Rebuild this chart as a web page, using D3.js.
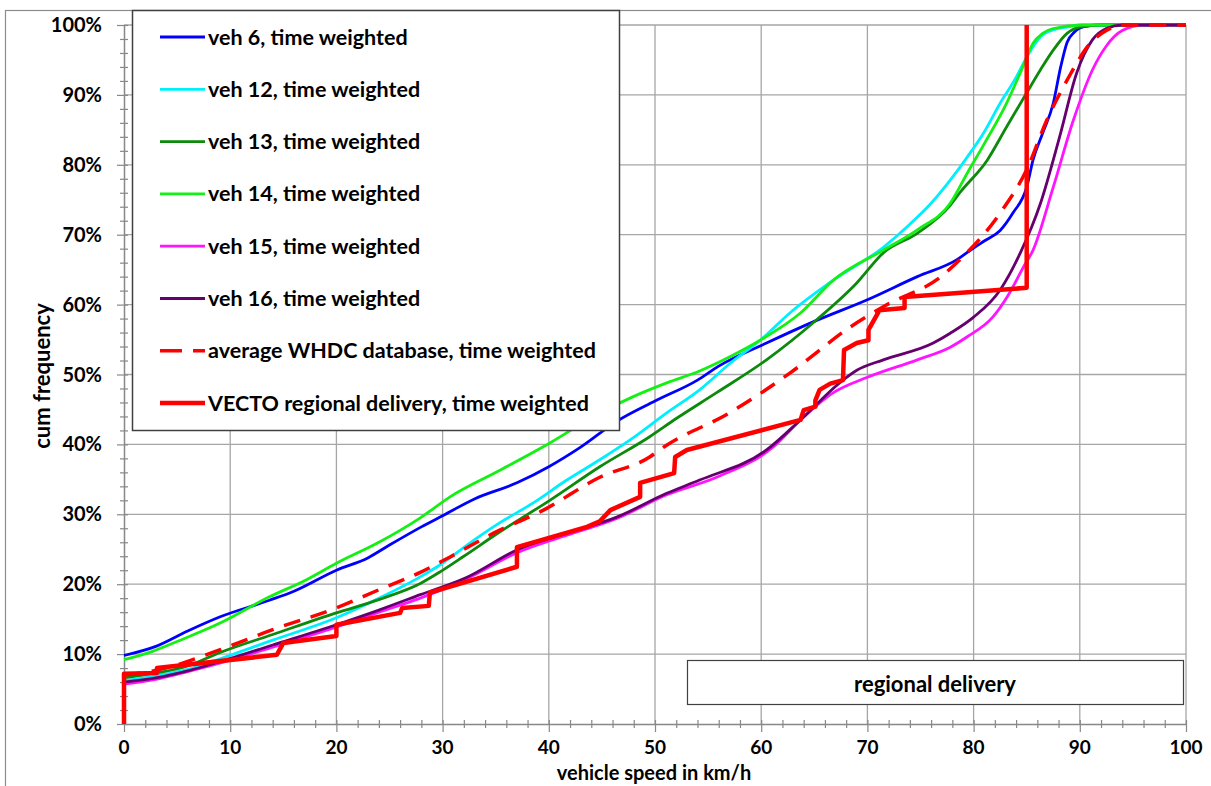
<!DOCTYPE html>
<html>
<head>
<meta charset="utf-8">
<script src="https://cdn.jsdelivr.net/npm/d3@7"></script>
<style>
  body { margin: 0; background: #fff; }
  svg text { font-family: Lato, "Open Sans", sans-serif; font-weight: bold; fill: #000; }
</style>
</head>
<body>
<script>
const width = 1211;
const height = 786;
const margin = { left: 124, right: 25, top: 25, bottom: 62 };

// speed axis ticks / cum frequency ticks
const xTicks = [0, 10, 20, 30, 40, 50, 60, 70, 80, 90, 100];
const yTicks = [0, 10, 20, 30, 40, 50, 60, 70, 80, 90, 100];

// veh 6
const veh6X = [0, 3, 6, 9, 13.7, 16, 20, 23, 25, 28, 30, 33, 37, 40, 43, 46.4, 50, 54, 56, 60.5, 65, 70, 74.7, 78.4, 80, 81, 82.5, 83.7, 85, 85.6, 86.5, 87.5, 88.2, 88.8, 89.5, 90.5, 92, 100];
const veh6Y = [9.8, 11.1, 13.3, 15.3, 17.7, 19, 22, 23.8, 25.6, 28.2, 29.8, 32.2, 34.5, 36.8, 39.6, 43.3, 46.2, 49.2, 51.2, 54.5, 57.6, 60.7, 64, 66.4, 68.1, 69.1, 70.6, 73.1, 76.8, 80.7, 84.5, 88.8, 94, 97.5, 99, 99.8, 100, 100];
// veh 12
const veh12X = [0, 3, 6, 9, 14, 20, 24, 27.6, 30, 32.3, 35.4, 38.5, 41.7, 44.8, 48, 51.1, 54.2, 57, 59.9, 62.7, 66.8, 71.5, 74, 76, 77.8, 79.4, 81, 82.5, 84, 85, 86.3, 87.5, 88.8, 90, 100];
const veh12Y = [6.2, 6.9, 7.8, 9.3, 12, 15.2, 18, 20.8, 23, 25.6, 28.8, 31.6, 34.9, 37.8, 41, 44.5, 47.8, 51.5, 54.9, 58.8, 63.5, 68.2, 71.5, 74.5, 77.8, 81.1, 84.7, 88.8, 92.5, 95.4, 98.3, 99.3, 99.7, 100, 100];
// veh 13
const veh13X = [0, 3, 6, 9, 14, 20, 24, 27.9, 29.8, 32, 35.4, 40.1, 44.8, 49.5, 52, 55.8, 60.5, 65.2, 69, 71.5, 74.7, 77.8, 78.7, 81.3, 83.1, 85, 86.3, 87.5, 88.8, 90, 92, 100];
const veh13Y = [6.6, 7.3, 8.3, 10.2, 12.8, 15.9, 17.8, 20.1, 21.8, 24, 27.5, 32, 36.8, 41.1, 43.7, 47.4, 52.1, 57.8, 63.1, 67.4, 70.2, 74.2, 76, 80.7, 85.4, 90.3, 93.6, 96.4, 98.8, 99.7, 100, 100];
// veh 14
const veh14X = [0, 2.7, 5, 9, 13.7, 17, 20, 24, 27.9, 30.7, 35.4, 40.1, 44.8, 47.9, 51.1, 54.2, 57, 59.9, 63.7, 66.8, 71.5, 74.7, 77.8, 79.4, 81, 83.1, 84.5, 85.6, 86.5, 87.5, 90.3, 100];
const veh14Y = [9.2, 10.4, 11.8, 14.4, 18.2, 20.5, 23, 26, 29.5, 32.5, 36.3, 40.2, 44.5, 46.8, 48.8, 50.5, 52.5, 54.9, 58.8, 63.5, 67.8, 70.7, 74.5, 78.8, 83, 88.8, 93.5, 97.4, 98.8, 99.5, 100, 100];
// veh 15
const veh15X = [0, 3, 6, 9, 14, 20, 24, 27.9, 32.3, 37, 41.7, 46.4, 51.1, 55.8, 61.1, 63.7, 66.8, 70, 74.7, 77.8, 79.4, 81.8, 83.4, 84.7, 85.6, 87.5, 89.4, 91.2, 92.5, 94, 96, 100];
const veh15Y = [5.7, 6.4, 7.5, 8.7, 11, 13.9, 16, 18, 20.8, 24.5, 27, 29.4, 32.8, 35.3, 39.6, 43.5, 47.4, 49.6, 52.1, 53.9, 55.4, 58.2, 61.7, 65.4, 67.8, 76.8, 86.4, 93.6, 97, 99.2, 100, 100];
// veh 16
const veh16X = [0, 3, 6, 9, 14, 20, 24, 27.9, 32.3, 37, 41.7, 46.4, 51.1, 54.2, 60.5, 63.7, 67.7, 69, 71.5, 76.2, 77.8, 80, 82.5, 84.4, 86.3, 88.1, 89.7, 91.2, 92.5, 94, 100];
const veh16Y = [6, 6.6, 7.6, 8.9, 11.3, 14.2, 16.3, 18.5, 21, 24.9, 27.3, 29.6, 33, 34.9, 39.2, 43.5, 49.2, 50.6, 52.1, 54.5, 55.9, 58.2, 62.1, 67.4, 74.5, 84, 93.1, 97.9, 99.5, 100, 100];
// average WHDC database
const avgX = [0, 3.1, 9, 14, 20, 24, 27.9, 30.7, 34.8, 39.5, 44.8, 49.5, 50.8, 57, 62.7, 68.4, 71.5, 77.1, 78.7, 82.5, 85, 86.9, 88.8, 91, 92.5, 94, 100];
const avgY = [7, 7.7, 10.6, 13.5, 16.6, 19.2, 21.7, 23.9, 27.3, 30.6, 35.3, 38.2, 39.6, 44.5, 50.2, 56.8, 59.7, 64.2, 66.4, 73.1, 79.3, 86.4, 92.1, 97.4, 99.2, 100, 100];
// VECTO regional delivery (stepped)
const vectoX = [0, 0, 3.1, 3.1, 14.4, 15, 20, 20, 26, 26.2, 28.7, 28.8, 37, 37, 43.6, 44.8, 45.8, 48.6, 48.6, 51.8, 51.9, 53, 63.7, 64, 65.1, 65.1, 65.5, 66.5, 67.7, 67.8, 69, 70.1, 70.1, 71, 71.1, 73.5, 73.5, 85, 85];
const vectoY = [0, 7.2, 7.3, 8, 9.9, 11.6, 12.6, 14.2, 15.9, 16.6, 16.9, 18.8, 22.5, 25.3, 28.2, 29, 30.6, 32.5, 34.5, 35.9, 38.2, 39.2, 43.5, 44.9, 45.4, 46.3, 47.8, 48.7, 49.2, 53.5, 54.5, 54.9, 56.4, 58.8, 59.2, 59.5, 61.1, 62.4, 100];

const seriesNames = [
  "veh 6, time weighted",
  "veh 12, time weighted",
  "veh 13, time weighted",
  "veh 14, time weighted",
  "veh 15, time weighted",
  "veh 16, time weighted",
  "average WHDC database, time weighted",
  "VECTO regional delivery, time weighted",
];

const zip = (xs, ys) => xs.map((x, i) => ({ x: x, y: ys[i] }));

const series = [
  { name: seriesNames[0], pts: zip(veh6X, veh6Y), color: "#0000ff", w: 2.8, smooth: true },
  { name: seriesNames[1], pts: zip(veh12X, veh12Y), color: "#00efff", w: 2.8, smooth: true },
  { name: seriesNames[2], pts: zip(veh13X, veh13Y), color: "#0c8a0c", w: 2.8, smooth: true },
  { name: seriesNames[3], pts: zip(veh14X, veh14Y), color: "#14f014", w: 2.8, smooth: true },
  { name: seriesNames[4], pts: zip(veh15X, veh15Y), color: "#ff14ff", w: 2.8, smooth: true },
  { name: seriesNames[5], pts: zip(veh16X, veh16Y), color: "#66006e", w: 2.8, smooth: true },
  { name: seriesNames[6], pts: zip(avgX, avgY), color: "#ff0000", w: 3.5, smooth: true, dash: "17,11" },
  { name: seriesNames[7], pts: zip(vectoX, vectoY), color: "#ff0000", w: 4.5, smooth: false },
];

const svg = d3.select("body").append("svg").attr("width", width).attr("height", height);

// outer chart frame
svg.append("rect")
  .attr("x", 5.5).attr("y", 10.5).attr("width", width + 20).attr("height", height + 20)
  .attr("fill", "none").attr("stroke", "#8c8c8c").attr("stroke-width", 1.2);

const xScale = d3.scaleLinear().domain([0, 100]).range([margin.left, width - margin.right]);
const yScale = d3.scaleLinear().domain([0, 100]).range([height - margin.bottom, margin.top]);

// grid
const grid = svg.append("g").attr("stroke", "#a6a6a6").attr("stroke-width", 1.3);
grid.selectAll(".vx").data(xTicks.slice(1)).enter().append("line")
  .attr("x1", (d) => xScale(d)).attr("x2", (d) => xScale(d))
  .attr("y1", yScale(0)).attr("y2", yScale(100));
grid.selectAll(".hy").data(yTicks.slice(1)).enter().append("line")
  .attr("x1", xScale(0)).attr("x2", xScale(100))
  .attr("y1", (d) => yScale(d)).attr("y2", (d) => yScale(d));

// axes
const xAxis = d3.axisBottom(xScale).tickValues(d3.range(0, 101, 2)).tickSize(0).tickFormat("");
const yAxis = d3.axisLeft(yScale).tickValues(d3.range(0, 101, 2)).tickSize(0).tickFormat("");
const gx = svg.append("g").attr("transform", `translate(0,${yScale(0)})`).call(xAxis);
const gy = svg.append("g").attr("transform", `translate(${xScale(0)},0)`).call(yAxis);
[gx, gy].forEach((g) => g.select(".domain").attr("stroke", "#888").attr("stroke-width", 1.5));

// minor/major tick marks crossing the axes
gx.selectAll(".tick").append("line")
  .attr("y1", -4).attr("y2", (d) => (d % 10 === 0 ? 8 : 4))
  .attr("stroke", "#888").attr("stroke-width", 1.2);
gy.selectAll(".tick").append("line")
  .attr("x1", 4).attr("x2", (d) => (d % 10 === 0 ? -7 : -4))
  .attr("stroke", "#888").attr("stroke-width", 1.2);

// tick labels
svg.append("g").selectAll("text").data(xTicks).enter().append("text")
  .attr("x", (d) => xScale(d)).attr("y", yScale(0) + 30)
  .attr("text-anchor", "middle").style("font-size", "19px")
  .text((d) => d);
svg.append("g").selectAll("text").data(yTicks).enter().append("text")
  .attr("x", xScale(0) - 22).attr("y", (d) => yScale(d) + 7)
  .attr("text-anchor", "end").style("font-size", "20px")
  .text((d) => d + "%");

// axis titles
svg.append("text").attr("x", 654).attr("y", 780).attr("text-anchor", "middle")
  .style("font-size", "20px").text("vehicle speed in km/h");
svg.append("text").attr("transform", "translate(50,376) rotate(-90)").attr("text-anchor", "middle")
  .style("font-size", "22px").text("cum frequency");

// lines
const smoothLine = d3.line().x((d) => xScale(d.x)).y((d) => yScale(d.y)).curve(d3.curveMonotoneX);
const stepLine = d3.line().x((d) => xScale(d.x)).y((d) => yScale(d.y)).curve(d3.curveLinear);

svg.append("g").selectAll("path").data(series).enter().append("path")
  .attr("d", (s) => (s.smooth ? smoothLine(s.pts) : stepLine(s.pts)))
  .attr("fill", "none")
  .attr("stroke", (s) => s.color)
  .attr("stroke-width", (s) => s.w)
  .attr("stroke-dasharray", (s) => s.dash || null)
  .attr("stroke-linejoin", "round");

// legend box
const legend = svg.append("g");
legend.append("rect").attr("x", 132.5).attr("y", 10.5).attr("width", 487).attr("height", 420)
  .attr("fill", "#fff").attr("stroke", "#404040").attr("stroke-width", 1.5);
const rows = legend.selectAll(".row").data(series).enter().append("g")
  .attr("transform", (s, i) => `translate(0,${37 + i * 52.3})`);
rows.append("line").attr("x1", 160).attr("x2", 205).attr("y1", 0).attr("y2", 0)
  .attr("stroke", (s) => s.color).attr("stroke-width", (s) => s.w)
  .attr("stroke-dasharray", (s) => (s.dash ? "22,11" : null));
rows.append("text").attr("x", 208).attr("y", 7.5).style("font-size", "21.5px").text((s) => s.name);

// label box
svg.append("rect").attr("x", 687.5).attr("y", 660.5).attr("width", 496).attr("height", 44)
  .attr("fill", "#fff").attr("stroke", "#404040").attr("stroke-width", 1.2);
svg.append("text").attr("x", 935).attr("y", 692).attr("text-anchor", "middle")
  .style("font-size", "22px").text("regional delivery");
</script>
</body>
</html>
